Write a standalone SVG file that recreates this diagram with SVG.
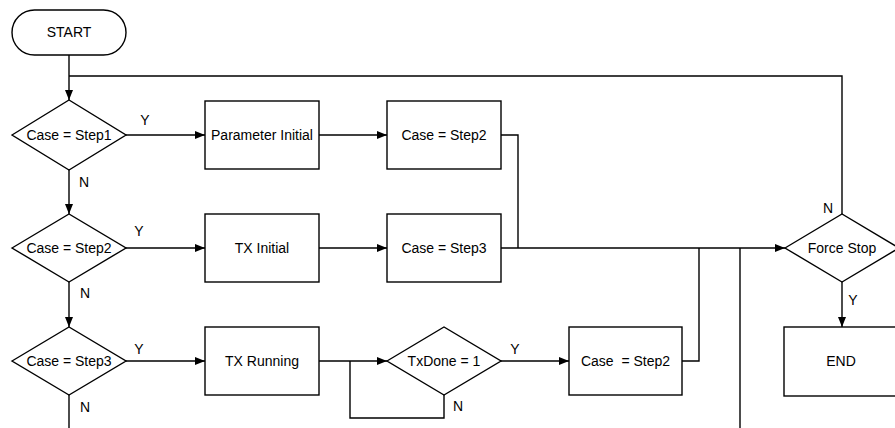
<svg xmlns="http://www.w3.org/2000/svg" width="895" height="428" viewBox="0 0 895 428">
<style>
.s{fill:#fff;stroke:#000;stroke-width:1.4}
.c{fill:none;stroke:#000;stroke-width:1.4}
text{font-family:"Liberation Sans",Arial,sans-serif;font-size:14px;fill:#000}
.m{text-anchor:middle}
</style>
<defs>
<marker id="arr" markerWidth="10" markerHeight="8" refX="10" refY="4" orient="auto" markerUnits="userSpaceOnUse"><path d="M0,0 L10,4 L0,8 z" fill="#000"/></marker>
</defs>
<g id="connectors">
<path class="c" d="M69,55 V100" marker-end="url(#arr)"/>
<path class="c" d="M69,170 V214" marker-end="url(#arr)"/>
<path class="c" d="M69,282 V327" marker-end="url(#arr)"/>
<path class="c" d="M69,395 V428"/>
<path class="c" d="M126,135 H205" marker-end="url(#arr)"/>
<path class="c" d="M319,135 H387" marker-end="url(#arr)"/>
<path class="c" d="M126,248 H205" marker-end="url(#arr)"/>
<path class="c" d="M319,248 H387" marker-end="url(#arr)"/>
<path class="c" d="M126,361 H205" marker-end="url(#arr)"/>
<path class="c" d="M319,361 H387" marker-end="url(#arr)"/>
<path class="c" d="M501,361 H569" marker-end="url(#arr)"/>
<path class="c" d="M501,248 H785" marker-end="url(#arr)"/>
<path class="c" d="M501,135 H518 V248"/>
<path class="c" d="M682,361 H699 V248"/>
<path class="c" d="M740,248 V428"/>
<path class="c" d="M444,395 V418 H350 V361"/>
<path class="c" d="M842,214 V76 H69"/>
<path class="c" d="M842,282 V327" marker-end="url(#arr)"/>
<text x="145" y="125" class="m">Y</text>
<text x="139" y="236" class="m">Y</text>
<text x="139" y="354" class="m">Y</text>
<text x="84" y="187" class="m">N</text>
<text x="85" y="298" class="m">N</text>
<text x="85" y="412" class="m">N</text>
<text x="515" y="354" class="m">Y</text>
<text x="458" y="411" class="m">N</text>
<text x="828" y="213" class="m">N</text>
<text x="853" y="305" class="m">Y</text>
</g>
<g id="start"><rect class="s" x="12" y="10" width="114" height="45" rx="22.5"/><text x="69" y="37" class="m">START</text></g>
<g id="d1"><path class="s" d="M12,135 L69,100 L126,135 L69,170 Z"/><text x="69" y="140" class="m">Case = Step1</text></g>
<g id="d2"><path class="s" d="M12,248 L69,214 L126,248 L69,282 Z"/><text x="69" y="253" class="m">Case = Step2</text></g>
<g id="d3"><path class="s" d="M12,361 L69,327 L126,361 L69,395 Z"/><text x="69" y="366" class="m">Case = Step3</text></g>
<g id="paramInit"><rect class="s" x="205" y="101" width="114" height="68"/><text x="262" y="140" class="m">Parameter Initial</text></g>
<g id="setStep2"><rect class="s" x="387" y="101" width="114" height="68"/><text x="444" y="140" class="m">Case = Step2</text></g>
<g id="txInit"><rect class="s" x="205" y="214" width="114" height="68"/><text x="262" y="253" class="m">TX Initial</text></g>
<g id="setStep3"><rect class="s" x="387" y="214" width="114" height="68"/><text x="444" y="253" class="m">Case = Step3</text></g>
<g id="txRun"><rect class="s" x="205" y="327" width="114" height="68"/><text x="262" y="366" class="m">TX Running</text></g>
<g id="txDone"><path class="s" d="M387,361 L444,327 L501,361 L444,395 Z"/><text x="444" y="366" class="m">TxDone = 1</text></g>
<g id="setStep2b"><rect class="s" x="569" y="327" width="113" height="68"/><text x="625.5" y="366" class="m" xml:space="preserve">Case  = Step2</text></g>
<g id="forceStop"><path class="s" d="M785,248 L842,214 L899,248 L842,282 Z"/><text x="842" y="253" class="m">Force Stop</text></g>
<g id="end"><rect class="s" x="784" y="327" width="114" height="69"/><text x="841" y="366" class="m">END</text></g>
</svg>
